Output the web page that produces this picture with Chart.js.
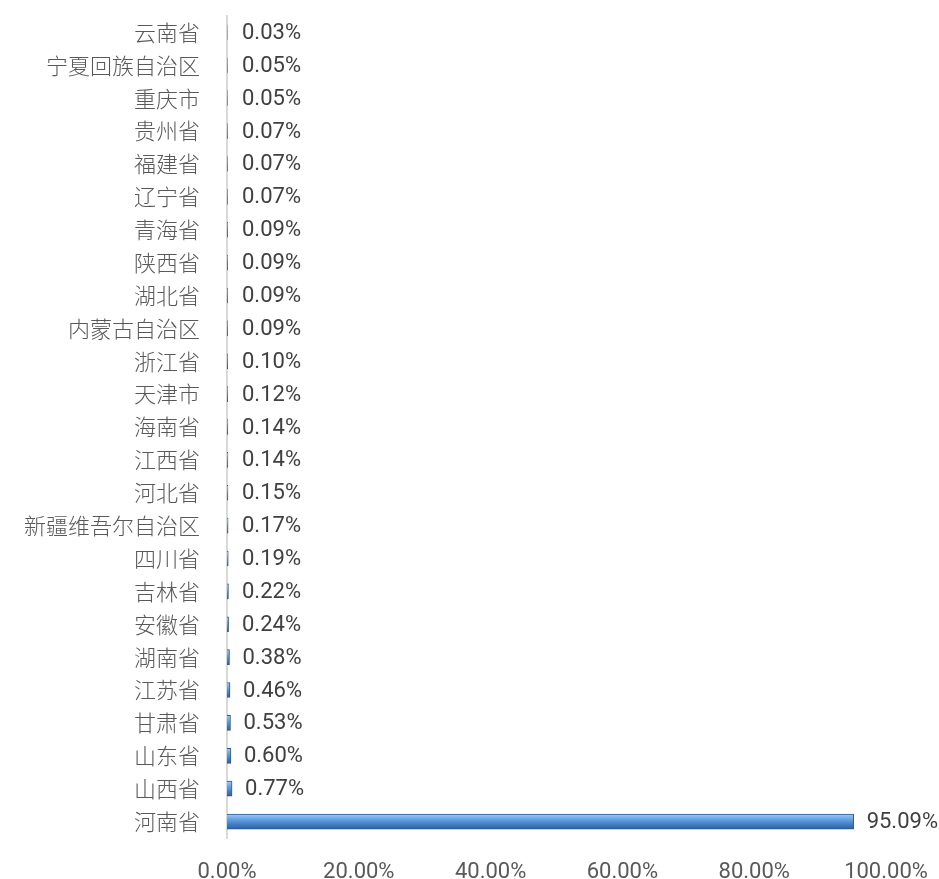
<!DOCTYPE html>
<html>
<head>
<meta charset="utf-8">
<script src="https://cdn.jsdelivr.net/npm/chart.js@4/dist/chart.umd.min.js"></script>
<style>
  html, body { margin: 0; padding: 0; background: #fff; }
  #wrap { width: 939px; height: 879px; }
</style>
</head>
<body>
<div id="wrap"><canvas id="c" width="939" height="879"></canvas></div>
<script>
// provinces, top to bottom
const provinces = ['云南省', '宁夏回族自治区', '重庆市', '贵州省', '福建省', '辽宁省', '青海省', '陕西省',
    '湖北省', '内蒙古自治区', '浙江省', '天津市', '海南省', '江西省', '河北省', '新疆维吾尔自治区',
    '四川省', '吉林省', '安徽省', '湖南省', '江苏省', '甘肃省', '山东省', '山西省', '河南省'];
const shares = [0.03, 0.05, 0.05, 0.07, 0.07, 0.07, 0.09, 0.09, 0.09, 0.09, 0.10, 0.12, 0.14, 0.14,
    0.15, 0.17, 0.19, 0.22, 0.24, 0.38, 0.46, 0.53, 0.60, 0.77, 95.09];
const xTicks = [0, 20, 40, 60, 80, 100];

// bar fill with a light top and darker bottom, like the bevelled original
const barFill = (ctx) => {
    const chart = ctx.chart;
    if (!chart.chartArea) return '#5b9bd5';
    const y = chart.scales.y.getPixelForValue(ctx.dataIndex);
    const g = chart.ctx.createLinearGradient(0, y - 8, 0, y + 8);
    g.addColorStop(0, '#a9cdf3');
    g.addColorStop(0.3, '#6eaae8');
    g.addColorStop(0.6, '#4a86cc');
    g.addColorStop(1, '#2c5b99');
    return g;
};

// value labels at the end of each bar
const valueLabels = {
    id: 'valueLabels',
    afterDatasetsDraw(chart) {
        const ctx = chart.ctx;
        const meta = chart.getDatasetMeta(0);
        ctx.save();
        ctx.font = '22px Roboto, sans-serif';
        ctx.fillStyle = '#404040';
        ctx.textAlign = 'left';
        ctx.textBaseline = 'middle';
        meta.data.forEach((bar, i) => {
            const x = Math.max(bar.x, 229) + 13;
            ctx.fillText(shares[i].toFixed(2) + '%', x, bar.y + 1);
        });
        ctx.restore();
    }
};

new Chart(document.getElementById('c'), {
    type: 'bar',
    data: {
        labels: provinces,
        datasets: [{
            data: shares,
            backgroundColor: barFill,
            borderColor: '#2c5a94',
            borderWidth: 1,
            borderSkipped: 'left',
            barThickness: 15
        }]
    },
    options: {
        indexAxis: 'y',
        responsive: false,
        animation: false,
        layout: { padding: { top: 16, right: 53, left: 0, bottom: 0 } },
        plugins: {
            legend: { display: false },
            tooltip: { enabled: false }
        },
        scales: {
            x: {
                min: 0,
                max: 100,
                afterBuildTicks: (axis) => { axis.ticks = xTicks.map(v => ({ value: v })); },
                afterFit: (axis) => {
                    axis.height = 41;
                    axis.paddingLeft = 0;
                    axis.paddingRight = 0;
                },
                grid: { display: false, drawTicks: false },
                border: { display: false },
                ticks: {
                    padding: 21,
                    color: '#595959',
                    font: { family: 'Roboto, sans-serif', size: 22 },
                    callback: (v) => v.toFixed(2) + '%',
                    maxRotation: 0
                }
            },
            y: {
                afterFit: (axis) => {
                    axis.width = 227;
                    axis.paddingTop = 0;
                    axis.paddingBottom = 0;
                },
                grid: { display: false, drawTicks: false },
                border: { display: true, color: '#d9d9d9', width: 2 },
                ticks: {
                    padding: 27,
                    color: '#595959',
                    font: { family: '"Noto Sans CJK SC", sans-serif', size: 22, weight: 300 },
                    autoSkip: false
                }
            }
        }
    },
    plugins: [valueLabels]
});
</script>
</body>
</html>
